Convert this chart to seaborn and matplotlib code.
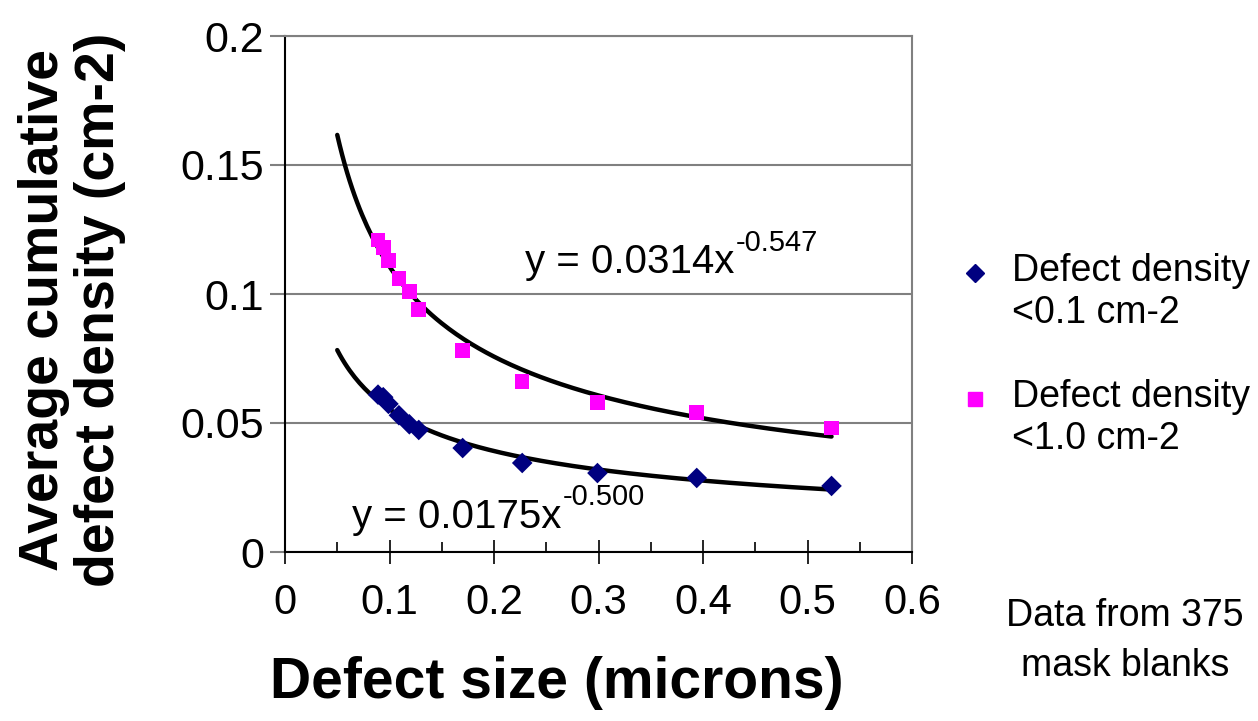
import numpy as np
import pandas as pd
import matplotlib
matplotlib.use("Agg")
import matplotlib.pyplot as plt
import seaborn as sns
from matplotlib.ticker import MultipleLocator
from matplotlib.transforms import offset_copy

# Defect size (microns) and average cumulative defect density (cm-2)
defect_size = [0.089, 0.094, 0.099, 0.109, 0.119, 0.128, 0.170, 0.227, 0.299, 0.394, 0.523]
density_low = [0.061, 0.060, 0.0574, 0.053, 0.0495, 0.0473, 0.0403, 0.0345, 0.0306, 0.0287, 0.0256]
density_high = [0.121, 0.118, 0.113, 0.106, 0.101, 0.094, 0.078, 0.066, 0.058, 0.054, 0.048]

series_labels = ["Defect density\n<0.1 cm-2", "Defect density\n<1.0 cm-2"]
series_colors = ["#000080", "#FF00FF"]
series_markers = ["D", "s"]

# Power-law trendlines y = a * x^b
fit_low = (0.0175, -0.500)
fit_high = (0.0314, -0.547)
fit_range = (0.05, 0.523)

x_ticks = [0, 0.1, 0.2, 0.3, 0.4, 0.5, 0.6]
y_ticks = [0, 0.05, 0.1, 0.15, 0.2]

sns.set_style("white")
plt.rcParams["font.family"] = ["Liberation Sans", "DejaVu Sans"]
plt.rcParams["text.color"] = "black"
plt.rcParams["xtick.color"] = "black"
plt.rcParams["ytick.color"] = "black"

fig = plt.figure(figsize=(12.58, 7.21), dpi=100)
ax = fig.add_axes([285 / 1258, 1 - 552 / 721, (912 - 285) / 1258, (552 - 36) / 721])

df = pd.DataFrame({
    "size": defect_size * 2,
    "density": density_low + density_high,
    "series": [series_labels[0]] * len(defect_size) + [series_labels[1]] * len(defect_size),
})

# trendlines
xf = np.linspace(fit_range[0], fit_range[1], 200)
for a, b in (fit_low, fit_high):
    sns.lineplot(x=xf, y=a * xf ** b, ax=ax, color="black", lw=3.2, zorder=3)

sns.scatterplot(data=df, x="size", y="density", hue="series", style="series",
                palette=series_colors, markers=dict(zip(series_labels, series_markers)),
                s=110, linewidth=0, ax=ax, zorder=4, legend=False)

ax.set_xlim(0, 0.6)
ax.set_ylim(0, 0.2)
ax.set_xticks(x_ticks)
ax.set_xticklabels([f"{t:g}" for t in x_ticks])
ax.set_yticks(y_ticks)
ax.set_yticklabels([f"{t:g}" for t in y_ticks])
ax.xaxis.set_minor_locator(MultipleLocator(0.05))
ax.set_xlabel("")
ax.set_ylabel("")

ax.yaxis.grid(True, color="#808080", lw=1.5)
ax.set_axisbelow(True)
for side in ("top", "right"):
    ax.spines[side].set_color("#808080")
    ax.spines[side].set_linewidth(1.5)
for side in ("left", "bottom"):
    ax.spines[side].set_color("black")
    ax.spines[side].set_linewidth(1.5)

ax.tick_params(axis="x", which="major", direction="inout", length=17, width=1.2,
               color="black", labelsize=30, pad=14, bottom=True)
ax.tick_params(axis="x", which="minor", direction="in", length=7, width=1.2,
               color="black", bottom=True)
ax.tick_params(axis="y", which="major", direction="out", length=11, width=1.5,
               color="#808080", labelsize=31, pad=4, left=True)

# trendline equations: base text plus a raised exponent placed right after it
fig.canvas.draw()
renderer = fig.canvas.get_renderer()
for (xt, yt), (a, b) in (((0.2297, 0.1124), fit_high), ((0.064, 0.0136), fit_low)):
    base = ax.text(xt, yt, f"y = {a:.4f}x", fontsize=29, va="center", ha="left")
    bb = base.get_window_extent(renderer)
    w_pts = bb.width * 72 / fig.dpi
    tr = offset_copy(ax.transData, fig=fig, x=w_pts + 1, y=14, units="points")
    ax.text(xt, yt, f"{b:.3f}", fontsize=21, va="center", ha="left", transform=tr)

# axis titles
fig.text(557 / 1258, 1 - 683 / 721, "Defect size (microns)", fontsize=41,
         fontweight="bold", ha="center", va="center")
fig.text(72 / 1258, 1 - 310 / 721, "Average cumulative\ndefect density (cm-2)", fontsize=40,
         fontweight="bold", ha="center", va="center", rotation=90, linespacing=1.1)

# legend
for i, (lab, col, mk) in enumerate(zip(series_labels, series_colors, series_markers)):
    yc = 1 - (273 + i * 126) / 721
    fig.lines.append(plt.Line2D([975 / 1258], [yc], marker=mk, color=col, ms=9 if mk == "D" else 10,
                                lw=0, transform=fig.transFigure, figure=fig))
    fig.text(1012 / 1258, 1 - (292 + i * 126) / 721, lab, fontsize=27, ha="left", va="center",
             linespacing=1.2)

fig.text(1125 / 1258, 1 - 641 / 721, "Data from 375\nmask blanks", fontsize=27,
         ha="center", va="center", linespacing=1.5)

fig.savefig("out.png", dpi=100, facecolor="white")
